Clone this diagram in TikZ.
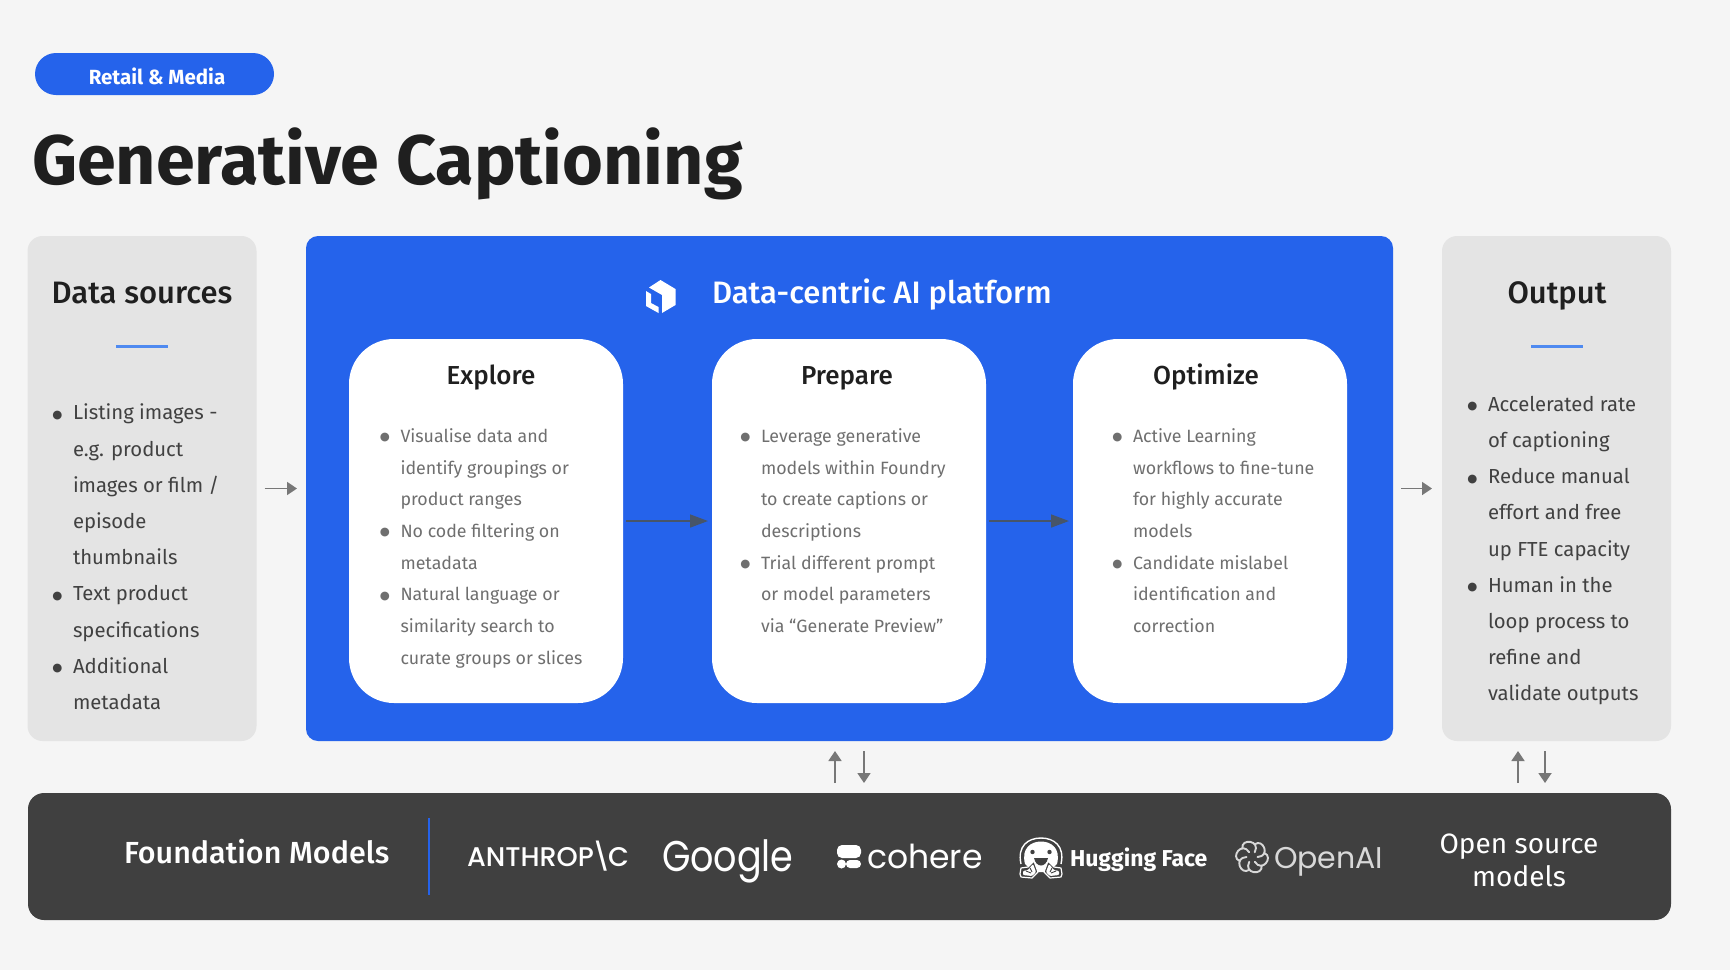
\documentclass[tikz,border=0pt]{standalone}
\usepackage{fontspec}
\setmainfont{Fira Sans}
\newfontfamily\medfont[UprightFont=* Medium]{Fira Sans}
\newfontfamily\logofont{Poppins}
\newfontfamily\logomed[UprightFont=* Medium]{Poppins}
\newfontfamily\dotfont{DejaVu Sans}
\usetikzlibrary{arrows.meta,positioning}
\definecolor{pagebg}{HTML}{F5F5F5}
\definecolor{panelgray}{HTML}{E4E4E4}
\definecolor{platblue}{HTML}{2563EB}
\definecolor{barblack}{HTML}{404040}
\definecolor{inktext}{HTML}{1F1F1F}
\definecolor{softtext}{HTML}{6F6F6F}
\definecolor{rulblue}{HTML}{4F8AF0}
\definecolor{slatearrow}{HTML}{475569}
\definecolor{grayarrow}{HTML}{777777}
\definecolor{logogray}{HTML}{D8D8D8}
\newcommand{\itm}{\leavevmode\llap{\raisebox{1.6pt}{\dotfont\fontsize{11.5}{12}\selectfont ●}\hspace{10.5pt}}}
\newcommand{\fs}[2]{\fontsize{#1}{#2}\selectfont}

\begin{document}
\begin{tikzpicture}[x=1pt,y=1pt,inner sep=0pt,outer sep=0pt,>={Triangle[length=18pt,width=13pt]}]
  \tikzstyle{side}=[rectangle,rounded corners=15pt,fill=panelgray,minimum width=229pt,minimum height=505pt]
  \tikzstyle{card}=[rectangle,rounded corners=45pt,fill=white,minimum width=274pt,minimum height=364pt]
  \tikzstyle{head}=[anchor=base,text=inktext,font=\medfont\fs{26}{30}]
  \tikzstyle{sidehead}=[anchor=base,text=inktext,font=\medfont\fs{31}{34}]
  \tikzstyle{sidelist}=[anchor=north west,align=left,text=inktext!85,font=\fs{20.3}{36.2}]
  \tikzstyle{cardlist}=[anchor=north west,align=left,text=softtext,font=\fs{17.8}{31.7}]
  \tikzstyle{flow}=[->,slatearrow,line width=1.6pt,shorten <=3pt,shorten >=4pt]
  \tikzstyle{small}=[-{Triangle[length=10pt,width=13pt]},grayarrow,line width=1.8pt]
  \tikzstyle{tick}=[rulblue,line width=3pt]
  \tikzstyle{logo}=[text=white,anchor=base west]

  \useasboundingbox[fill=pagebg] (0,0) rectangle (1730,-970);

  % header
  \node [rectangle,rounded corners=21pt,fill=platblue,minimum width=239pt,minimum height=42pt] (pill) at (154.5,-74) {};
  \node [text=white,font=\bfseries\fs{20.5}{24}] (pilltext) at (157,-76) {Retail \& Media};
  \node [anchor=base west,text=inktext,font=\bfseries\fs{70}{80}] (title) at (32,-184) {Generative Captioning};

  % three columns
  \node [side] (sources) at (142,-488.5) {};
  \node [rectangle,rounded corners=12pt,fill=platblue,minimum width=1087pt,minimum height=505pt] (platform) [right=49.5pt of sources] {};
  \node [side] (output) [right=49pt of platform] {};

  \node [sidehead] (sourcehead) at (142,-303) {Data sources};
  \node [sidehead] (outputhead) at (1557,-303) {Output};
  \node [anchor=base west,text=white,font=\medfont\fs{31}{34}] (plathead) at (712,-303) {Data-centric AI platform};
  \coordinate (tickA) at (116,-346);
  \coordinate (tickB) at (168,-346);
  \coordinate (tickC) at (1531,-346);
  \coordinate (tickD) at (1583,-346);
  \draw [tick] (tickA) -- (tickB);
  \draw [tick] (tickC) -- (tickD);

  \node [sidelist] (sourcelist) at (73,-404) {\itm Listing images -\\e.g. product\\images or film /\\episode\\thumbnails\\\itm Text product\\specifications\\\itm Additional\\metadata};
  \node [sidelist] (outputlist) at (1488,-396) {\itm Accelerated rate\\of captioning\\\itm Reduce manual\\effort and free\\up FTE capacity\\\itm Human in the\\loop process to\\refine and\\validate outputs};

  % cards
  \node [card] (explore) at (486,-521) {};
  \node [card] (prepare) [right=89pt of explore] {};
  \node [card] (optimize) [right=87pt of prepare] {};
  \node [head] (explorehead) at (491,-384) {Explore};
  \node [head] (preparehead) at (847,-384) {Prepare};
  \node [head] (optimizehead) at (1206,-384) {Optimize};
  \node [cardlist] (explorelist) at (400.5,-428.5) {\itm Visualise data and\\identify groupings or\\product ranges\\\itm No code filtering on\\metadata\\\itm Natural language or\\similarity search to\\curate groups or slices};
  \node [cardlist] (preparelist) at (761,-428.5) {\itm Leverage generative\\models within Foundry\\to create captions or\\descriptions\\\itm Trial different prompt\\or model parameters\\via “Generate Preview”};
  \node [cardlist] (optimizelist) at (1133,-428.5) {\itm Active Learning\\workflows to fine-tune\\for highly accurate\\models\\\itm Candidate mislabel\\identification and\\correction};

  \draw [flow] (explore) -- (prepare);
  \draw [flow] (prepare) -- (optimize);
  \draw [small,shorten <=8pt,shorten >=9pt] (sources) -- (platform);
  \draw [small,shorten <=8pt,shorten >=10pt] (platform) -- (output);

  % foundation models bar
  \node [rectangle,rounded corners=16pt,fill=barblack,minimum width=1643pt,minimum height=127pt] (bar) at (849.5,-856.5) {};
  \node [anchor=base west,text=white,font=\medfont\fs{30.5}{34}] (barhead) at (124,-863) {Foundation Models};
  \coordinate (divtop) at (429,-818);
  \coordinate (divbot) at (429,-895);
  \draw [platblue,line width=2pt] (divtop) -- (divbot);

  \coordinate (upA) at (835,-793);
  \coordinate (upB) at (835,-740);
  \coordinate (downA) at (864,-740);
  \coordinate (downB) at (864,-793);
  \coordinate (upC) at (1518,-793);
  \coordinate (upD) at (1518,-740);
  \coordinate (downC) at (1545,-740);
  \coordinate (downD) at (1545,-793);
  \draw [small,shorten <=10pt,shorten >=11pt] (upA) -- (upB);
  \draw [small,shorten <=11pt,shorten >=10pt] (downA) -- (downB);
  \draw [small,shorten <=10pt,shorten >=11pt] (upC) -- (upD);
  \draw [small,shorten <=11pt,shorten >=10pt] (downC) -- (downD);

  % logos
  \node [logo,font=\logomed\fs{27}{30}] (anthropic) at (467,-866) {ANTHROP\kern-2.5pt\textbackslash\kern-2.5pt C};
  \node [logo,xscale=.85,transform shape,font=\logofont\fs{43}{48}] (google) at (662,-871) {Google};
  \node [logo,font=\logofont\fs{33}{36}] (cohere) at (867,-868) {cohere};
  \node [logo,font=\bfseries\fs{23}{26}] (hugging) at (1070,-866) {Hugging Face};
  \node [logo,text=logogray,font=\logofont\fs{30}{34}] (openai) at (1274,-868) {OpenAI};
  \node [text=white,align=center,font=\fs{28}{33}] (opensource) at (1519,-860) {Open source\\models};

  % cohere mark
  \fill [white,rounded corners=5pt] (837,-845) rectangle (861,-858);
  \fill [white] (841.5,-864) circle (4.5);
  \fill [white,rounded corners=4pt] (846,-860) rectangle (861,-868);
  % hugging face mark
  \draw [white,line width=1.4pt] (1021,-864) .. controls (1017,-846) and (1028,-838) .. (1041,-838) .. controls (1054,-838) and (1065,-846) .. (1061,-864);
  \fill [white] (1025,-864) .. controls (1021,-848) and (1031,-841.5) .. (1041,-841.5) .. controls (1051,-841.5) and (1061,-848) .. (1057,-864) -- (1048,-872) -- (1034,-872) -- cycle;
  \fill [barblack] (1032.5,-852) circle (2.2);
  \fill [barblack] (1049.5,-852) circle (2.2);
  \fill [barblack] (1034,-858) .. controls (1036,-868) and (1046,-868) .. (1048,-858) -- cycle;
  \foreach \s in {1,-1} {
    \begin{scope}[shift={(1041,-870)},xscale=\s]
      \draw [white,fill=barblack,line width=1.2pt,line join=round] (-21,-4) -- (-20,-7) -- (-9,-8) -- (-3,-2) -- (-7,9) -- (-13,3) -- (-20,2) -- cycle;
      \fill [white,rounded corners=1pt] (-18,-5) -- (-9,-6) -- (-5,-2) -- (-8,6) -- (-13,0) -- (-18,-1) -- cycle;
      \draw [barblack,line width=.9pt] (-15,-1) -- (-10,-3);
      \draw [barblack,line width=.9pt] (-11,2) -- (-9,-2);
    \end{scope}
  }
  % openai mark
  \begin{scope}[shift={(1252,-857)}]
    \foreach \a in {0,60,...,300}
      \draw [logogray,line width=1.9pt,line cap=round] (\a:5.5) .. controls (\a+2:19) and (\a+60:22) .. (\a+78:13);
  \end{scope}
  % cube mark
  \fill [white,line join=round] (660.5,-280) -- (675.5,-289) -- (675.5,-305) -- (662,-313) -- (662,-295) -- (649,-287.5) -- cycle;
  \fill [white] (646,-291) -- (651,-294) -- (651,-303) -- (658.5,-307) -- (658.5,-313) -- (646,-306) -- cycle;
\end{tikzpicture}
\end{document}
